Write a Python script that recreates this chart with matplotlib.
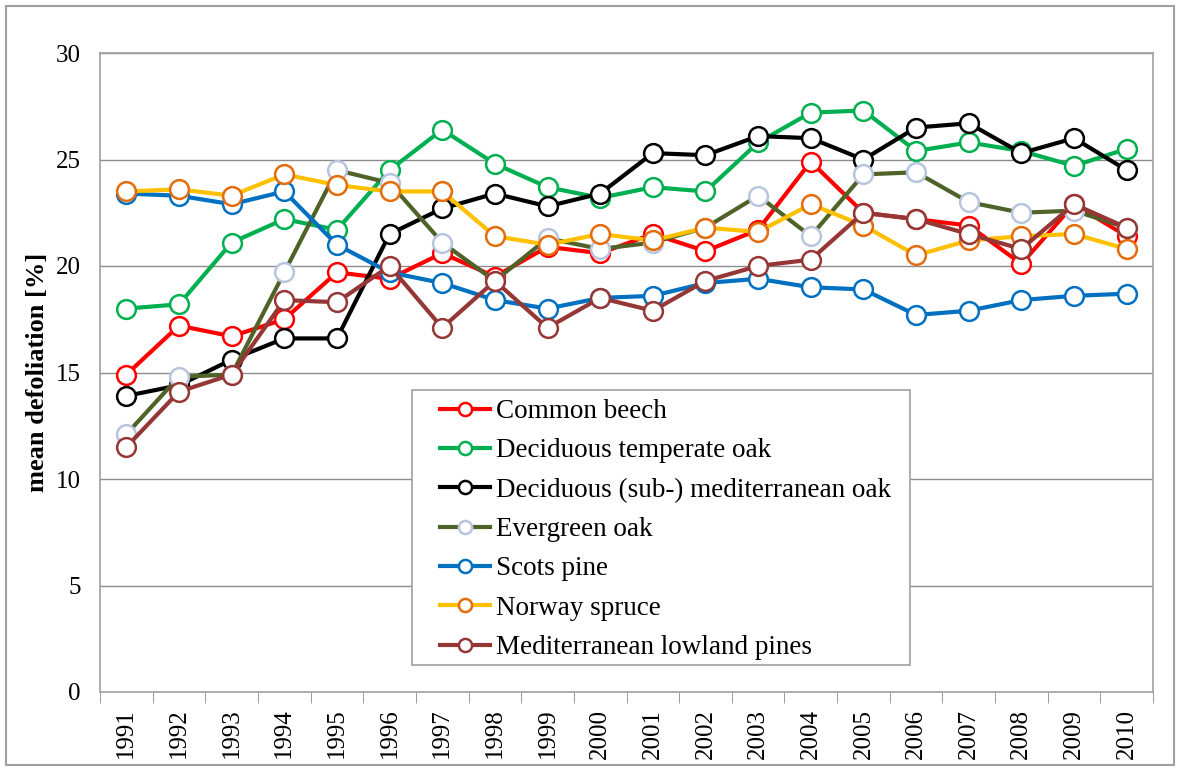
import numpy as np
import matplotlib.pyplot as plt
from matplotlib.patches import Rectangle

years = [str(y) for y in range(1991, 2011)]

common_beech = [14.9, 17.2, 16.7, 17.5, 19.7, 19.4, 20.6, 19.5, 20.9, 20.6,
                21.5, 20.7, 21.7, 24.9, 22.5, 22.2, 21.9, 20.1, 22.9, 21.4]
decid_temperate_oak = [18.0, 18.2, 21.1, 22.2, 21.7, 24.5, 26.4, 24.8, 23.7, 23.2,
                       23.7, 23.5, 25.8, 27.2, 27.3, 25.4, 25.8, 25.4, 24.7, 25.5]
decid_med_oak = [13.9, 14.4, 15.6, 16.6, 16.6, 21.5, 22.7, 23.4, 22.8, 23.4,
                 25.3, 25.2, 26.1, 26.0, 25.0, 26.5, 26.7, 25.3, 26.0, 24.5]
evergreen_oak = [12.1, 14.8, 14.9, 19.7, 24.5, 23.9, 21.1, 19.3, 21.3, 20.8,
                 21.1, 21.8, 23.3, 21.4, 24.3, 24.4, 23.0, 22.5, 22.6, 21.8]
scots_pine = [23.4, 23.3, 22.9, 23.5, 21.0, 19.7, 19.2, 18.4, 18.0, 18.5,
              18.6, 19.2, 19.4, 19.0, 18.9, 17.7, 17.9, 18.4, 18.6, 18.7]
norway_spruce = [23.5, 23.6, 23.3, 24.3, 23.8, 23.5, 23.5, 21.4, 21.0, 21.5,
                 21.2, 21.8, 21.6, 22.9, 21.9, 20.5, 21.2, 21.4, 21.5, 20.8]
med_lowland_pines = [11.5, 14.1, 14.9, 18.4, 18.3, 20.0, 17.1, 19.3, 17.1, 18.5,
                     17.9, 19.3, 20.0, 20.3, 22.5, 22.2, 21.5, 20.8, 22.9, 21.8]

series = [
    ('Common beech', common_beech, '#FF0000', '#FF0000'),
    ('Deciduous temperate oak', decid_temperate_oak, '#00B050', '#00B050'),
    ('Deciduous (sub-) mediterranean oak', decid_med_oak, '#000000', '#000000'),
    ('Evergreen oak', evergreen_oak, '#4F6228', '#B9C5DE'),
    ('Scots pine', scots_pine, '#0070C0', '#0070C0'),
    ('Norway spruce', norway_spruce, '#FFC000', '#E46C0A'),
    ('Mediterranean lowland pines', med_lowland_pines, '#953735', '#953735'),
]

plt.rcParams['font.family'] = ['Liberation Serif', 'DejaVu Serif']

fig = plt.figure(figsize=(11.79, 7.69), dpi=100)
ax = fig.add_axes([100/1179, 1 - 692/769, 1053/1179, 639/769])

x = np.arange(len(years))
for name, vals, lc, mc in series:
    ax.plot(x, vals, color=lc, lw=3.0, marker='o', ms=13.5,
            mfc='white', mec=mc, mew=1.8, label=name)

ax.set_xlim(-0.5, len(years) - 0.5)
ax.set_ylim(0, 30)
ax.set_yticks(range(0, 31, 5))
ax.yaxis.grid(True, color='#8C8C8C', lw=1)
ax.set_axisbelow(True)
ax.tick_params(axis='y', length=0, labelsize=18, pad=14)

ax.set_xticks(x)
ax.set_xticklabels(years, rotation=90, fontsize=18)
ax.set_xticks(np.arange(-0.5, len(years), 1), minor=True)
ax.tick_params(axis='x', which='major', length=0, pad=12)
ax.tick_params(axis='x', which='minor', length=8, color='#8C8C8C')

for s in ax.spines.values():
    s.set_color('#A0A0A0')
    s.set_linewidth(1.2)

ax.set_ylabel('mean defoliation [%]', fontsize=19, fontweight='bold', labelpad=5)

# legend frame drawn separately (Excel-style padding)
ax.add_patch(Rectangle((312/1053, 27/639), 498/1053, 275/639,
                       transform=ax.transAxes, facecolor='white',
                       edgecolor='#A0A0A0', lw=1.2, zorder=4.5))
leg = ax.legend(loc='upper left', bbox_to_anchor=(340/1053, 293/639), fontsize=19.5,
                frameon=False, handlelength=1.85, handletextpad=0.22,
                labelspacing=0.53, borderpad=0, borderaxespad=0, markerscale=0.7)

fig.patches.append(Rectangle((6/1179, 4/769), 1168/1179, 759/769,
                             transform=fig.transFigure, fill=False,
                             edgecolor='#A0A0A0', lw=1.5))

fig.savefig('out.png', dpi=100)
